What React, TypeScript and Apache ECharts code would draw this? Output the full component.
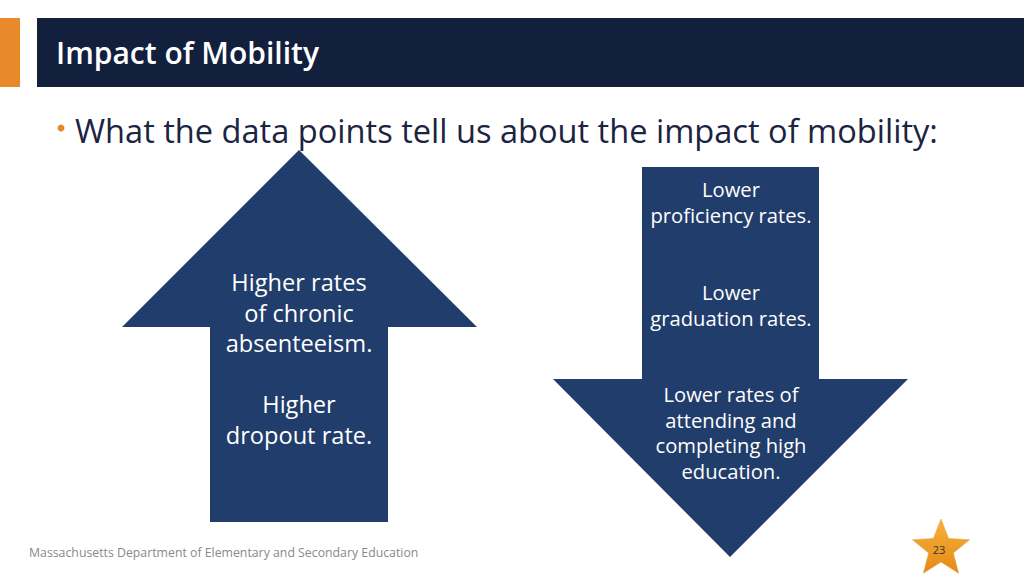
import React, { useEffect, useRef } from "react";
import * as echarts from "echarts";

const titleText = "Impact of Mobility";
const bulletText = "What the data points tell us about the impact of mobility:";
const upLines = ["Higher rates", "of chronic", "absenteeism.", "", "Higher", "dropout rate."];
const downBlocks = [
  ["Lower", "proficiency rates."],
  ["Lower", "graduation rates."],
  ["Lower rates of", "attending and", "completing high", "education."],
];
const footerText = "Massachusetts Department of Elementary and Secondary Education";
const pageNumber = "23";

const FONT = "'Open Sans', 'Noto Sans', sans-serif";
const NAVY = "#12203e";
const ARROW = "#213d6b";
const ORANGE = "#e8892a";

function starPoints(cx: number, cy: number, R: number, r: number) {
  const pts: number[][] = [];
  for (let i = 0; i < 10; i++) {
    const ang = -Math.PI / 2 + (i * Math.PI) / 5;
    const rad = i % 2 === 0 ? R : r;
    pts.push([cx + rad * Math.cos(ang), cy + rad * Math.sin(ang)]);
  }
  return pts;
}

export default function App() {
  const ref = useRef<HTMLDivElement>(null);
  useEffect(() => {
    if (!ref.current) return;
    const chart = echarts.init(ref.current, undefined, { renderer: "svg" });
    const elements: any[] = [];
    elements.push({ type: "rect", shape: { x: 0, y: 18, width: 20, height: 69 }, style: { fill: ORANGE } });
    elements.push({ type: "rect", shape: { x: 37, y: 18, width: 987, height: 69 }, style: { fill: NAVY } });
    elements.push({
      type: "text",
      style: { text: titleText, x: 56, y: 52, fill: "#ffffff", fontSize: 30, fontWeight: 600, fontFamily: FONT, verticalAlign: "middle" },
    });
    elements.push({ type: "circle", shape: { cx: 61, cy: 128, r: 3.5 }, style: { fill: ORANGE } });
    elements.push({
      type: "text",
      style: { text: bulletText, x: 75, y: 130, fill: "#1b2440", fontSize: 32.6, fontFamily: FONT, verticalAlign: "middle" },
    });
    // up arrow
    elements.push({
      type: "polygon",
      shape: { points: [[299, 150], [477, 327], [388, 327], [388, 522], [210, 522], [210, 327], [122, 327]] },
      style: { fill: ARROW },
    });
    upLines.forEach((t, i) => {
      if (!t) return;
      elements.push({
        type: "text",
        style: { text: t, x: 299, y: 282 + i * 30.6, fill: "#ffffff", fontSize: 23.6, fontFamily: FONT, align: "center", verticalAlign: "middle" },
      });
    });
    // down arrow
    elements.push({
      type: "polygon",
      shape: { points: [[642, 167], [819, 167], [819, 379], [908, 379], [730, 557], [553, 379], [642, 379]] },
      style: { fill: ARROW },
    });
    const blockStarts = [189, 292, 394];
    downBlocks.forEach((blk, b) => {
      blk.forEach((t, i) => {
        elements.push({
          type: "text",
          style: { text: t, x: 731, y: blockStarts[b] + i * 25.5, fill: "#ffffff", fontSize: 20.2, fontFamily: FONT, align: "center", verticalAlign: "middle" },
        });
      });
    });
    elements.push({
      type: "text",
      style: { text: footerText, x: 29, y: 552, fill: "#8a8a8a", fontSize: 12.3, fontFamily: FONT, verticalAlign: "middle" },
    });
    elements.push({
      type: "polygon",
      shape: { points: starPoints(941, 549, 30, 13) },
      style: {
        fill: new echarts.graphic.LinearGradient(0, 0, 0, 1, [
          { offset: 0, color: "#f7b23a" },
          { offset: 1, color: "#e48a16" },
        ]),
        stroke: "#e0a040",
        lineWidth: 0.5,
      },
    });
    elements.push({
      type: "text",
      style: { text: pageNumber, x: 939, y: 549, fill: "#333333", fontSize: 11, fontFamily: FONT, align: "center", verticalAlign: "middle" },
    });
    chart.setOption({ animation: false, backgroundColor: "#ffffff", graphic: { elements } });
    return () => chart.dispose();
  }, []);
  return <div ref={ref} style={{ position: "fixed", left: 0, top: 0, width: 1024, height: 576 }} />;
}
